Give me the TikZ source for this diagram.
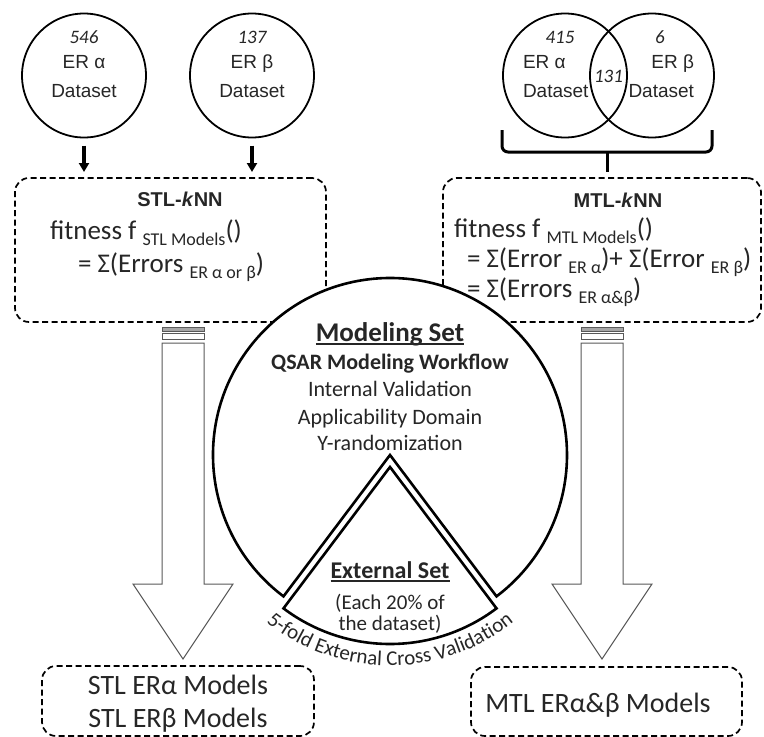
\documentclass[tikz,border=0pt]{standalone}
\usepackage{fontspec}
\setmainfont{Carlito}
\newfontfamily\arialf{Liberation Sans}
\usetikzlibrary{decorations.text,arrows.meta,calc}
\newcommand\sbx[1]{\raisebox{-6.5pt}{\fontsize{18}{18}\selectfont #1}}
\newcommand\myul[1]{\setbox0\hbox{#1}\rlap{\rule[-4pt]{\wd0}{1.6pt}}\box0}
\begin{document}
\begin{tikzpicture}[x=1pt,y=-1pt,
  every node/.style={inner sep=0pt, outer sep=0pt, text=black!85},
  dset/.style={circle, draw=black, line width=1.8pt, minimum size=124pt},
  dbox/.style={draw=black, line width=1.7pt, dash pattern=on 6pt off 3.5pt, rounded corners=14pt},
  nums/.style={font=\fontsize{19}{19}\selectfont\itshape, anchor=base},
  dlab/.style={font=\arialf\fontsize{19}{19}\selectfont, anchor=base},
  ktitle/.style={font=\arialf\bfseries\fontsize{20}{20}\selectfont, anchor=base},
  fit/.style={font=\fontsize{27}{27}\selectfont, anchor=base west},
  sarrow/.style={line width=3.2pt, -{Triangle[length=9pt,width=10pt]}},
  blockarrow/.style={draw=black!65, line width=1pt, fill=white},
  pieline/.style={draw=black, line width=2.6pt, fill=white, line join=miter},
  pbig/.style={font=\fontsize{27}{27}\selectfont\bfseries, anchor=base},
  pmid/.style={font=\fontsize{22}{22}\selectfont, anchor=base},
  outtxt/.style={font=\fontsize{28}{28}\selectfont, anchor=base}
]
\useasboundingbox (0,0) rectangle (764,737);

% ---- top datasets
\node[dset] (ea) at (84,75.5) {};
\node[dset] (eb) at (252,75.5) {};
\node[nums] (ea-n) at (84,43) {546};
\node[dlab] (ea-t) at (84,68) {ER α};
\node[dlab] (ea-d) at (84,97) {Dataset};
\node[nums] (eb-n) at (252,43) {137};
\node[dlab] (eb-t) at (252,68) {ER β};
\node[dlab] (eb-d) at (252,97) {Dataset};

\node[dset] (va) at (565,75.5) {};
\node[dset] (vb) at (652,75.5) {};
\node[nums] (va-n) at (560,43) {415};
\node[dlab, anchor=base west] (va-t) at (523,68) {ER α};
\node[dlab, anchor=base west] (va-d) at (523,97) {Dataset};
\node[nums] (vb-n) at (660,43) {6};
\node[dlab, anchor=base east] (vb-t) at (694,68) {ER β};
\node[dlab, anchor=base east] (vb-d) at (694,97) {Dataset};
\node[nums] (vab-n) at (608.5,82) {131};

% ---- model boxes (borders)
\node[dbox, minimum width=311pt, minimum height=144pt] (stl) at (170.5,250) {};
\node[dbox, minimum width=318pt, minimum height=144pt] (mtl) at (602,250) {};

% ---- small arrows and brace
\draw[sarrow] ([yshift=-8pt]ea.south) -- ([yshift=6pt]ea.south |- stl.north);
\draw[sarrow] ([yshift=-8pt]eb.south) -- ([yshift=6pt]eb.south |- stl.north);
\coordinate (brL) at (502,130);
\coordinate (brR) at (712,130);
\coordinate (brM) at (607,152);
\draw[line width=3pt, rounded corners=6pt] (brL) -- (brL |- brM) -- (brR |- brM) -- (brR);
\draw[line width=3pt] (brM) -- ([yshift=6pt]brM |- mtl.north);

% ---- block arrows
\coordinate (la-top) at (183,327);
\coordinate (la-tip) at (183,659);
\coordinate (ra-top) at (602,327);
\coordinate (ra-tip) at (602,659);
\foreach \t/\p in {la-top/la-tip, ra-top/ra-tip}{
  \draw[blockarrow] ($(\t)+(-21,16)$) -- ($(\p)+(-21,-75)$) -- ($(\p)+(-50,-75)$) -- (\p)
     -- ($(\p)+(50,-75)$) -- ($(\p)+(21,-75)$) -- ($(\t)+(21,16)$) -- cycle;
  \draw[blockarrow, fill=black!35] ($(\t)+(-21,0)$) rectangle ($(\t)+(21,4)$);
  \draw[blockarrow] ($(\t)+(-21,6.5)$) rectangle ($(\t)+(21,12.5)$);
}

% ---- modelling set pie and external slice
\coordinate (pc) at (390,455);
\coordinate (sc) at (390,467);
\draw[pieline] (pc) -- ($(pc)+(127:177)$) arc[start angle=127, end angle=413, radius=177] -- cycle;
\draw[pieline] (sc) -- ($(sc)+(127:177)$) arc[start angle=127, end angle=53, radius=177] -- cycle;

% ---- box texts
\node[ktitle] (stl-h) at (180,206) {STL-\textit{k}NN};
\node[fit] (stl-f) at (50,239) {fitness f \sbx{STL Models}()};
\node[fit] (stl-e) at (78,272) {= Σ(Errors \sbx{ER α or β})};
\node[ktitle] (mtl-h) at (618,207) {MTL-\textit{k}NN};
\node[fit] (mtl-f) at (454,237) {fitness f \sbx{MTL Models}()};
\node[fit] (mtl-e1) at (467,267) {= Σ(Error \sbx{ER α})+ Σ(Error \sbx{ER β})};
\node[fit] (mtl-e2) at (467,297) {= Σ(Errors \sbx{ER α\&β})};

% ---- pie texts
\node[pbig] (ms) at (390,341) {\myul{Modeling Set}};
\node[pmid, font=\fontsize{22}{22}\selectfont\bfseries] (qs) at (390,369) {QSAR Modeling Workflow};
\node[pmid] (iv) at (390,396) {Internal Validation};
\node[pmid] (ad) at (390,424) {Applicability Domain};
\node[pmid] (yr) at (390,450) {Y-randomization};
\node[pbig, font=\fontsize{24}{24}\selectfont\bfseries] (es) at (390,578) {\myul{External Set}};
\node[pmid, font=\fontsize{21}{21}\selectfont] (e1) at (390,609) {(Each 20\% of};
\node[pmid, font=\fontsize{21}{21}\selectfont] (e2) at (390,630) {the dataset)};
\path[decorate, decoration={text along path, text align=center, text color=black!85,
  text={|\fontsize{21}{21}\selectfont|5-fold External Cross Validation}}]
  ($(sc)+(134:198.5)$) arc[start angle=134, end angle=46, radius=198.5];

% ---- output boxes
\node[dbox, minimum width=272pt, minimum height=70pt] (so) at (178,701) {};
\node[outtxt] (so1) at (178,694) {STL ERα Models};
\node[outtxt] (so2) at (178,727) {STL ERβ Models};
\node[dbox, minimum width=271pt, minimum height=69pt] (mo) at (606.5,701.5) {};
\node[outtxt] (mo1) at (598,712) {MTL ERα\&β Models};
\end{tikzpicture}
\end{document}
